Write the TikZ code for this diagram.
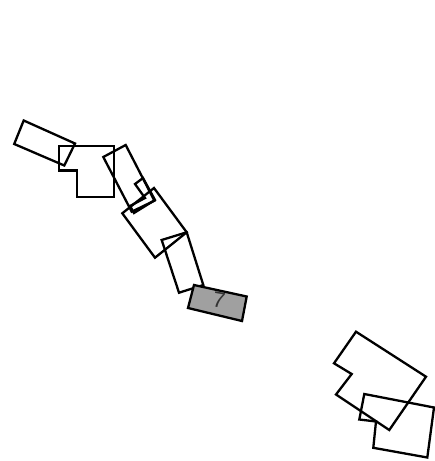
\documentclass[tikz,border=0pt]{standalone}
\usepackage{fontspec}
\setmainfont{Liberation Sans}
\definecolor{tilegray}{HTML}{A0A0A0}
\definecolor{labelgray}{HTML}{333333}

\begin{document}
\begin{tikzpicture}[x=1pt, y=-1pt, line width=2.3pt, line join=miter,
  piece/.style={draw=black},
  active/.style={draw=black, fill=tilegray}]
  \useasboundingbox (0,0) rectangle (435,461);
  % upper left chain
  \draw[piece] (23.7,120.5) -- (75,143.5) -- (64.3,165.5) -- (14.2,144) -- cycle;
  \draw[piece] (59,146) -- (114.3,146) -- (114.3,197.3) -- (77.3,197.3) -- (77.3,170.5) -- (59,170.5) -- cycle;
  \draw[piece] (103.3,157) -- (125.7,145) -- (154.4,200.7) -- (131.7,211.7) -- cycle;
  \draw[piece] (135,184) -- (143,178) -- (155,200) -- (134,213) -- (130,206) -- (145,198) -- cycle;
  \draw[piece] (122.3,213.3) -- (154,188) -- (186.7,232.3) -- (155,257.7) -- cycle;
  \draw[piece] (161.7,240) -- (186.7,232.3) -- (203.3,285) -- (179,292.7) -- cycle;
  % lower right pair
  \draw[piece] (356,331.7) -- (426,376.7) -- (389.3,430) -- (336,394.5) -- (351.7,374) -- (334,363.3) -- cycle;
  \draw[piece] (364.3,394) -- (434,407.5) -- (427.3,457.5) -- (373.3,447.8) -- (376,421.5) -- (359.3,419.5) -- cycle;
  % selected piece
  \draw[active] (194,285) -- (246.7,296.5) -- (242,321) -- (188,308) -- cycle;
  \node[text=labelgray, font=\fontsize{22}{22}\selectfont, rotate=-10] (seven) at (219,300.5) {7};
\end{tikzpicture}
\end{document}
